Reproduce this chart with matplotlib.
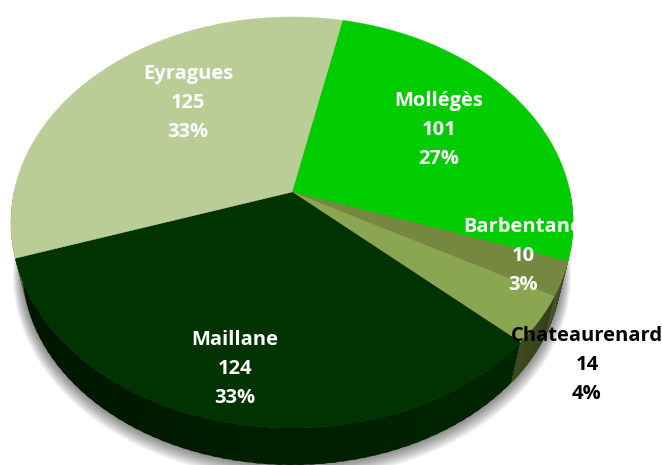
import matplotlib
matplotlib.use('Agg')
import matplotlib.pyplot as plt
from matplotlib.colors import to_rgb
import numpy as np

nombres = ['Mollégès', 'Barbentane', 'Chateaurenard', 'Maillane', 'Eyragues']
valores = [101, 10, 14, 124, 125]
porcentajes = ['27%', '3%', '4%', '33%', '33%']
colores = ['#00CC00', '#76883F', '#8BA650', '#003300', '#BACD96']
# color del lado: principio y final de cada porcion
lado_ini = ['#006600', '#4A5626', '#3E4A20', '#001400', '#5A6B40']
lado_fin = ['#006600', '#414C20', '#363F1C', '#002600', '#5A6B40']

# posicion de cada etiqueta y color del texto
pos_etiquetas = [(439, 130), (523, 256), (587, 365), (235, 369), (188, 103)]
color_texto = ['white', 'white', 'black', 'white', 'white']

CX, CY = 292, 192
K, A, B = 0.1484, 278, 201
ESC, DESP = 0.96, 46.4


def cara(x, y):
    # circulo unidad -> elipse en perspectiva (pixeles respecto al centro)
    w = 1 + K * y
    return A * x / w, -B * y / w


def borde_sup(t):
    px, py = cara(np.cos(t), np.sin(t))
    return CX + px, CY + py


def borde_inf(t):
    px, py = cara(np.cos(t), np.sin(t))
    return CX + ESC * px, CY + ESC * py + DESP


fig = plt.figure(figsize=(6.62, 4.65), dpi=100)
ax = fig.add_axes([0, 0, 1, 1])

wedges, _ = ax.pie(valores, startangle=78, counterclock=False, radius=1)
angulos = [(w.theta1, w.theta2) for w in wedges]
for w in wedges:
    w.remove()

ax.set_aspect('auto')
ax.set_xlim(0, 662)
ax.set_ylim(465, 0)
ax.axis('off')

# sombra, solo se ve por debajo
t = np.radians(np.linspace(0, 360, 361))
sx, sy = borde_inf(t)
for i in range(14):
    e = 1.0 + i * 0.0026
    ax.fill(CX + (sx - CX) * e, CY + 46 + (sy - CY - 46) * e + i * 0.55,
            color='black', alpha=0.04, lw=0, zorder=1 + (13 - i) * 0.01)

# lado del queso, por tiras para el degradado
for (t1, t2), c1, c2 in zip(angulos, lado_ini, lado_fin):
    c1, c2 = np.array(to_rgb(c1)), np.array(to_rgb(c2))
    grados = np.linspace(t1, t2, 60)
    for j in range(len(grados) - 1):
        # cada tira pisa un poco la siguiente para que no se vean las juntas
        tt = np.radians([grados[j], min(grados[j + 1] + 1.0, t2)])
        if np.sin(tt).max() > 0.05:
            continue
        xs, ys = borde_sup(tt)
        xi, yi = borde_inf(tt)
        col = c1 + (c2 - c1) * j / 58
        ax.fill(np.r_[xs, xi[::-1]], np.r_[ys, yi[::-1]], color=col, lw=0, zorder=2 + j * 0.001)

# cara superior
for (t1, t2), c in zip(angulos, colores):
    tt = np.radians(np.linspace(t1, t2, 120))
    xs, ys = borde_sup(tt)
    ax.fill(np.r_[CX, xs], np.r_[CY, ys], color=c, lw=0.3, zorder=3)

for n, v, p, pos, c in zip(nombres, valores, porcentajes, pos_etiquetas, color_texto):
    ax.text(pos[0], pos[1], f'{n}\n{v}\n{p}', color=c, fontsize=14.5, fontweight='bold',
            family='Open Sans', ha='center', va='center', linespacing=1.61, zorder=5)

fig.savefig('out.png', dpi=100)
